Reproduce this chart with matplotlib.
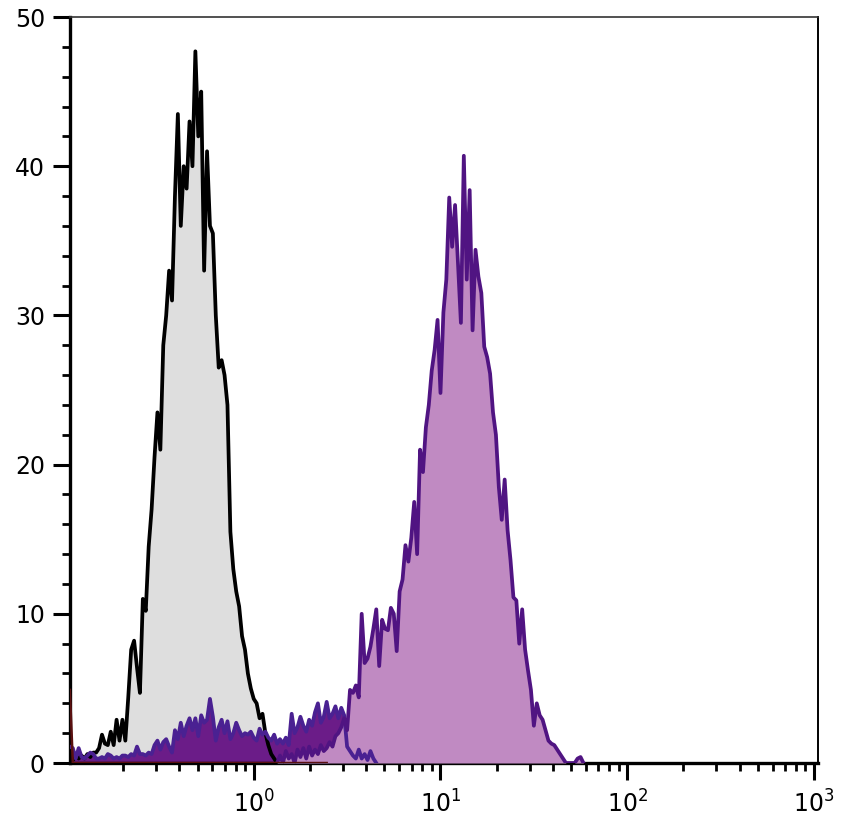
#! /usr/bin/python3

""" Flow cytometry overlay histogram (log fluorescence vs. counts)."""

import numpy as np
import matplotlib.pyplot as plt
from matplotlib.ticker import MultipleLocator, LogLocator

# channel scale: 64 channels per decade, channel 0 = 10^-1
CH_PER_DECADE = 64

# isotype control (grey fill, black outline), starts at channel 1
gray_start = 1
gray_counts = [0.3, 0.2, 0.4, 0.3, 0.5, 0.3, 0.6, 0.4, 0.7, 0.7,
               1.0, 1.9, 1.3, 1.2, 2.1, 1.2, 2.9, 1.5, 2.9, 1.5,
               4.4, 7.6, 8.2, 6.4, 4.7, 11.0, 10.2, 14.5, 17.0, 20.5,
               23.5, 21.0, 28.0, 30.0, 33.0, 31.0, 38.0, 43.5, 36.0, 40.0,
               38.5, 43.0, 40.0, 47.7, 42.0, 45.0, 33.0, 41.0, 36.0, 35.5,
               30.0, 26.5, 27.0, 26.0, 24.0, 15.5, 13.0, 11.5, 10.5, 8.5,
               7.6, 6.0, 5.0, 4.3, 4.0, 3.0, 3.3, 2.0, 1.2, 0.6,
               0.3, 0.0]

# low / negative population (dark purple fill)
dark_start = 1
dark_counts = [1.1, 1.0, 0.3, 1.0, 0.4, 0.3, 0.5, 0.7, 0.6, 0.3,
               0.3, 0.4, 0.3, 0.6, 0.5, 0.3, 0.4, 0.3, 0.5, 0.5,
               0.4, 0.6, 0.5, 1.1, 0.6, 0.6, 0.5, 0.7, 0.6, 1.2,
               1.5, 0.9, 1.4, 1.6, 1.1, 0.7, 2.2, 1.6, 2.7, 1.8,
               2.5, 3.0, 2.2, 3.0, 1.8, 3.2, 2.7, 2.9, 4.3, 3.1,
               1.5, 2.4, 2.9, 2.0, 2.8, 1.6, 2.0, 2.7, 2.2, 1.8,
               2.0, 1.9, 2.1, 1.7, 1.5, 2.3, 1.9, 2.1, 1.7, 1.5,
               1.9, 1.3, 1.6, 1.3, 1.7, 1.2, 3.3, 2.0, 2.4, 3.1,
               2.5, 2.1, 2.9, 2.5, 3.4, 4.0, 2.7, 3.1, 4.1, 3.0,
               3.3, 3.8, 3.0, 3.7, 3.2, 1.1, 0.8, 0.5, 0.3, 0.9,
               0.3, 0.6, 0.2, 0.8, 0.3, 0.0]

# stained sample (light purple fill)
purple_start = 72
purple_counts = [0.0, 0.5, 0.0, 0.8, 0.3, 0.6, 0.0, 0.9, 0.4, 1.0,
                 0.3, 1.1, 0.5, 0.9, 0.6, 1.2, 0.8, 1.0, 1.4, 1.1,
                 1.8, 2.0, 2.4, 3.0, 2.2, 4.9, 4.7, 5.2, 4.4, 10.0,
                 6.7, 7.0, 7.8, 9.0, 10.3, 6.5, 9.6, 9.0, 8.9, 10.4,
                 10.0, 7.5, 11.5, 12.3, 14.6, 13.5, 15.1, 17.5, 14.0, 21.0,
                 19.5, 22.5, 24.0, 26.3, 27.7, 29.7, 24.8, 30.2, 32.4, 37.9,
                 34.6, 37.4, 33.5, 29.5, 40.7, 32.4, 38.4, 29.0, 34.4, 32.6,
                 31.5, 27.9, 27.2, 26.1, 23.5, 22.0, 18.5, 16.3, 19.0, 15.6,
                 13.6, 11.1, 10.9, 8.0, 10.3, 7.6, 6.2, 4.9, 2.5, 4.0,
                 3.2, 2.9, 2.2, 1.5, 1.3, 1.2, 0.9, 0.6, 0.3, 0.0,
                 0.0, 0.0, 0.0, 0.3, 0.4, 0.0]

# off-scale events piled in the first channel (dark red)
red_start = 1
red_counts = [4.9] + [0.0] * 88

y_ticks = [0, 10, 20, 30, 40, 50]


def channel_x(start, counts):
    ch = start + np.arange(len(counts))
    return 10 ** (-1 + ch / CH_PER_DECADE)


def plot_overlay():
    fig = plt.figure(figsize=(8.43, 8.3), dpi=100)
    ax = fig.add_axes([0.083, 0.0807, 0.887, 0.8988])

    lw = 2.7
    gx, gy = channel_x(gray_start, gray_counts), np.array(gray_counts)
    dx, dy = channel_x(dark_start, dark_counts), np.array(dark_counts)
    px, py = channel_x(purple_start, purple_counts), np.array(purple_counts)
    rx, ry = channel_x(red_start, red_counts), np.array(red_counts)

    # fills first, outlines on top
    ax.fill_between(gx, gy, 0, color='#dedede', linewidth=0, zorder=1)
    ax.fill_between(dx, dy, 0, color='#6b1c88', linewidth=0, zorder=2)
    ax.fill_between(px, py, 0, color='#c08ac2', linewidth=0, zorder=3)
    ax.plot(gx, gy, color='black', linewidth=lw, zorder=4)
    ax.plot(dx, dy, color='#4a2192', linewidth=lw, zorder=5)
    ax.plot(px, py, color='#501482', linewidth=lw, zorder=6)
    ax.plot(rx, ry, color='#5a1010', linewidth=1.8, zorder=7)

    ax.set_xscale('log')
    ax.set_xlim(10 ** -0.984, 10 ** 3.02)
    ax.set_ylim(0, 50)
    ax.set_xticks([1, 10, 100, 1000])
    ax.xaxis.set_minor_locator(LogLocator(base=10, subs=np.arange(2, 10)))
    ax.set_yticks(y_ticks)
    ax.yaxis.set_minor_locator(MultipleLocator(2))

    for side in ('left', 'bottom'):
        ax.spines[side].set_linewidth(2.4)
    ax.spines['right'].set_linewidth(1.4)
    ax.spines['top'].set_linewidth(1.2)
    ax.spines['top'].set_color('#333333')

    ax.tick_params(which='major', direction='out', length=12, width=2.2,
                   labelsize=17, pad=6)
    ax.tick_params(which='minor', direction='out', length=5.5, width=2.0)
    ax.tick_params(axis='x', which='major', pad=8)

    fig.savefig('out.png', dpi=100)


if __name__ == '__main__':
    plot_overlay()
